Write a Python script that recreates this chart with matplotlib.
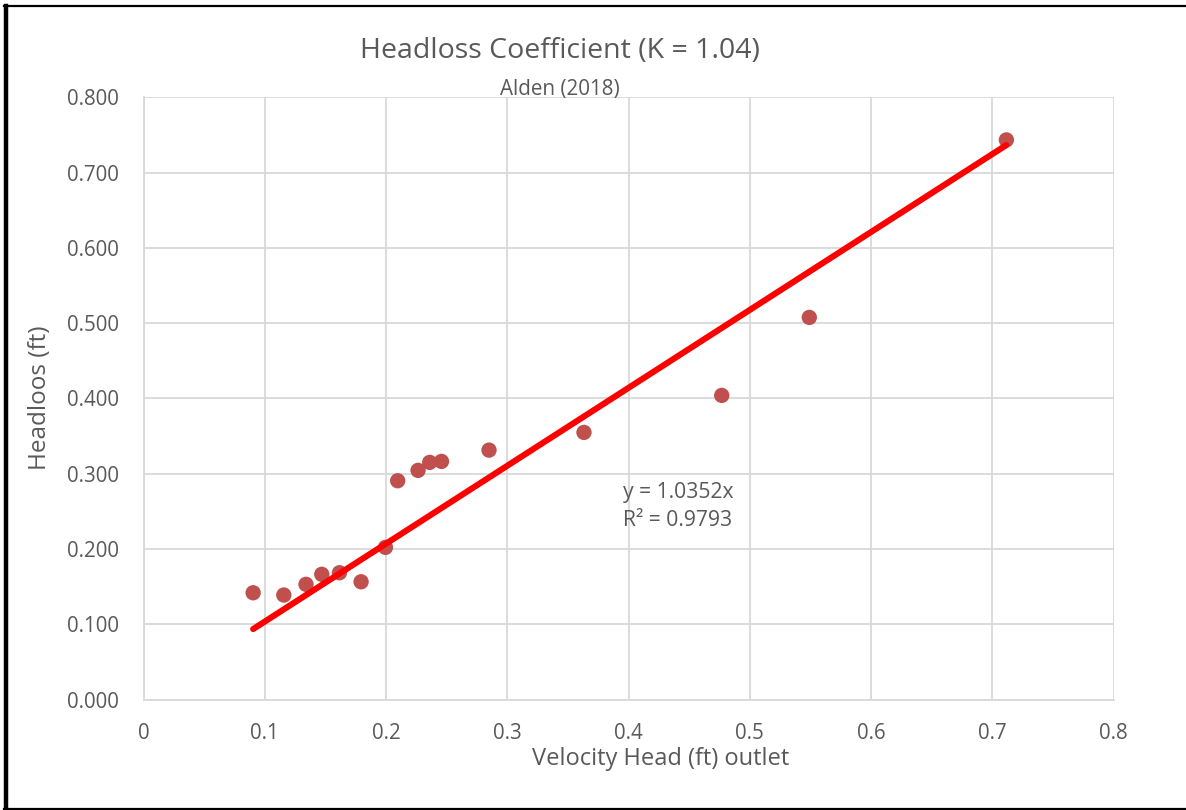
import matplotlib
matplotlib.use("Agg")
import matplotlib.pyplot as plt
from matplotlib.lines import Line2D
import numpy as np

plt.rcParams['font.family'] = ['Open Sans', 'DejaVu Sans']

# Measured velocity head (ft) at outlet and corresponding headloss (ft)
velocity_head = [0.0904, 0.1157, 0.1340, 0.1470, 0.1616, 0.1794, 0.1995, 0.2096,
                 0.2264, 0.2360, 0.2457, 0.2849, 0.3632, 0.4768, 0.5490, 0.7115]
headloss = [0.1418, 0.1388, 0.1530, 0.1663, 0.1684, 0.1564, 0.2021, 0.2906,
            0.3044, 0.3150, 0.3163, 0.3313, 0.3548, 0.4040, 0.5076, 0.7434]

# Linear trendline through origin
slope = 1.0352
r_squared = 0.9793

x_ticks = [0, 0.1, 0.2, 0.3, 0.4, 0.5, 0.6, 0.7, 0.8]
x_tick_labels = ["0", "0.1", "0.2", "0.3", "0.4", "0.5", "0.6", "0.7", "0.8"]
y_ticks = [0.0, 0.1, 0.2, 0.3, 0.4, 0.5, 0.6, 0.7, 0.8]
y_tick_labels = ["0.000", "0.100", "0.200", "0.300", "0.400", "0.500", "0.600", "0.700", "0.800"]

title = "Headloss Coefficient (K = 1.04)"
subtitle = "Alden (2018)"
x_label = "Velocity Head (ft) outlet"
y_label = "Headloos (ft)"

TEXT = "#595959"
GRID = "#D9D9D9"
MARKER = "#C0504D"

W, H = 1186, 810
fig = plt.figure(figsize=(W / 100, H / 100), dpi=100)
fig.patch.set_facecolor("white")

def fx(px):
    return px / W

def fy(py):
    return 1 - py / H

left, right, top, bottom = 143.5, 1113.7, 97.3, 699.5
ax = fig.add_axes([fx(left), fy(bottom), fx(right) - fx(left), fy(top) - fy(bottom)])

ax.set_xlim(0, 0.8)
ax.set_ylim(0, 0.8)
ax.set_xticks(x_ticks)
ax.set_xticklabels(x_tick_labels)
ax.set_yticks(y_ticks)
ax.set_yticklabels(y_tick_labels)
ax.tick_params(axis="both", length=0, colors=TEXT, labelsize=14.8)
ax.tick_params(axis="x", pad=17)
ax.tick_params(axis="y", pad=18)
ax.grid(True, color=GRID, linewidth=1.3)
ax.set_axisbelow(True)
for side, sp in ax.spines.items():
    if side in ("top", "right"):
        sp.set_visible(False)
    else:
        sp.set_color(GRID)
        sp.set_linewidth(1.3)

ax.scatter(velocity_head, headloss, s=122, color=MARKER, edgecolors="none", zorder=3,
           clip_on=False)

x_fit = np.array([min(velocity_head), max(velocity_head)])
ax.plot(x_fit, slope * x_fit, color="#FF0000", linewidth=4.4,
        solid_capstyle="round", zorder=4)

ax.text(0.395, 0.256, f"y = {slope:.4f}x\nR² = {r_squared:.4f}", color=TEXT,
        fontsize=15.2, ha="left", va="center", linespacing=1.45)

fig.text(fx(560), fy(51), title, color=TEXT, fontsize=20.5, ha="center", va="center")
fig.text(fx(560), fy(89), subtitle, color=TEXT, fontsize=14.9, ha="center", va="center")
fig.text(fx(661), fy(759), x_label, color=TEXT, fontsize=17, ha="center", va="center")
fig.text(fx(40), fy(398), y_label, color=TEXT, fontsize=17.5, ha="center", va="center",
         rotation=90)

# Chart frame
frame_kw = dict(color="black", transform=fig.transFigure, linewidth=1.6)
fig.add_artist(Line2D([fx(5.5), fx(5.5)], [fy(5.5), fy(809)], linewidth=3.2,
                      color="black", transform=fig.transFigure))
fig.add_artist(Line2D([fx(4), fx(W + 5)], [fy(5.5), fy(5.5)], **frame_kw))
fig.add_artist(Line2D([fx(4), fx(W + 5)], [fy(809), fy(809)], **frame_kw))

fig.savefig("out.png", dpi=100, facecolor="white")
